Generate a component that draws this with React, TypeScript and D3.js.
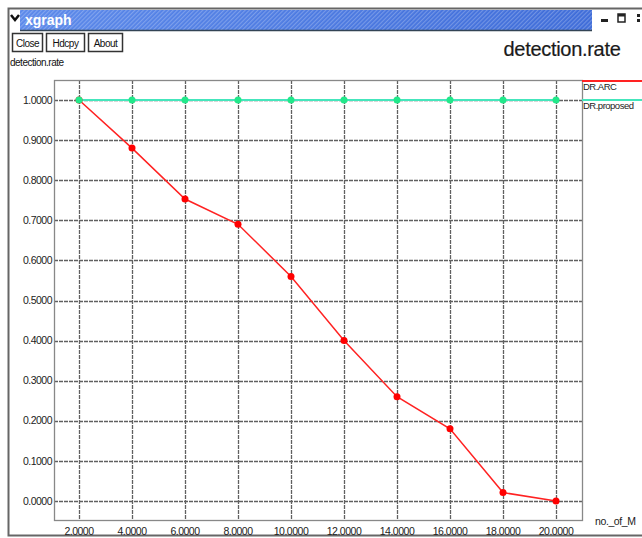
import React, { useEffect, useRef } from 'react';
import * as d3 from 'd3';

// values
const xValues = [2, 4, 6, 8, 10, 12, 14, 16, 18, 20];
const drArc = [1.0, 0.88, 0.753, 0.69, 0.56, 0.4, 0.26, 0.18, 0.021, 0.0];
const drProposed = [1, 1, 1, 1, 1, 1, 1, 1, 1, 1];
const yTicks = [0, 0.1, 0.2, 0.3, 0.4, 0.5, 0.6, 0.7, 0.8, 0.9, 1.0];
const seriesNames = ['DR.ARC', 'DR.proposed'];
const buttons = ['Close', 'Hdcpy', 'About'];

const App = () => {
  const svgRef = useRef<SVGSVGElement>(null);

  useEffect(() => {
    const width = 642;
    const height = 538;
    const frame = { left: 54, right: 582, top: 80, bottom: 520 };
    const font = "'Liberation Sans', Arial, sans-serif";

    const svg = d3.select(svgRef.current)
      .attr('width', width)
      .attr('height', height)
      .attr('viewBox', [0, 0, width, height])
      .attr('font-family', font);
    svg.selectAll('*').remove();

    svg.append('rect').attr('width', width).attr('height', height).attr('fill', '#fff');

    // window chrome
    const defs = svg.append('defs');
    const grad = defs.append('linearGradient').attr('id', 'bar');
    grad.append('stop').attr('offset', '0%').attr('stop-color', '#5a88ea');
    grad.append('stop').attr('offset', '100%').attr('stop-color', '#3d6bd8');
    const pat = defs.append('pattern')
      .attr('id', 'hatch').attr('width', 3).attr('height', 3)
      .attr('patternUnits', 'userSpaceOnUse')
      .attr('patternTransform', 'rotate(45)');
    pat.append('rect').attr('width', 1.2).attr('height', 3)
      .attr('fill', '#ffffff').attr('fill-opacity', 0.25);

    svg.append('rect').attr('x', 8.5).attr('y', 8.5).attr('width', 700).attr('height', 527)
      .attr('fill', 'none').attr('stroke', '#666').attr('stroke-width', 2);
    svg.append('rect').attr('x', 20).attr('y', 10).attr('width', 572).attr('height', 20)
      .attr('fill', 'url(#bar)');
    svg.append('rect').attr('x', 20).attr('y', 10).attr('width', 572).attr('height', 20)
      .attr('fill', 'url(#hatch)');
    svg.append('line').attr('x1', 20).attr('x2', 592).attr('y1', 30.5).attr('y2', 30.5)
      .attr('stroke', '#345').attr('stroke-width', 1.5);
    svg.append('path').attr('d', 'M11,15 L15,20 L19,15').attr('fill', 'none')
      .attr('stroke', '#111').attr('stroke-width', 2.5);
    svg.append('text').attr('x', 25).attr('y', 25).text('xgraph')
      .attr('font-family', font).attr('fill', '#fff').attr('font-size', 14).attr('font-weight', 'bold');
    svg.append('rect').attr('x', 601).attr('y', 19).attr('width', 7).attr('height', 3).attr('fill', '#222');
    svg.append('rect').attr('x', 618).attr('y', 14).attr('width', 7).attr('height', 8)
      .attr('fill', 'none').attr('stroke', '#222').attr('stroke-width', 1.5);
    svg.append('rect').attr('x', 618).attr('y', 14).attr('width', 7).attr('height', 2.5).attr('fill', '#222');
    svg.append('rect').attr('x', 637).attr('y', 14).attr('width', 3).attr('height', 3).attr('fill', '#222');
    svg.append('rect').attr('x', 637).attr('y', 19).attr('width', 3).attr('height', 3).attr('fill', '#222');

    const bx = [12, 46, 88];
    const bw = [30, 38, 34];
    buttons.forEach((b, i) => {
      svg.append('rect').attr('x', bx[i] + 0.5).attr('y', 33.5).attr('width', bw[i]).attr('height', 18)
        .attr('fill', '#fff').attr('stroke', '#333').attr('stroke-width', 1.5);
      svg.append('text').attr('x', bx[i] + bw[i] / 2 + 0.5).attr('y', 47).text(b)
        .attr('text-anchor', 'middle').attr('font-size', 10).attr('fill', '#111')
        .attr('letter-spacing', -0.5);
    });
    svg.append('text').attr('x', 10).attr('y', 66).text('detection.rate')
      .attr('font-size', 10).attr('fill', '#111').attr('letter-spacing', -0.5);
    svg.append('text').attr('x', 562).attr('y', 56).text('detection.rate')
      .attr('text-anchor', 'middle').attr('font-size', 20).attr('fill', '#1a1a1a')
      .attr('stroke', '#1a1a1a').attr('stroke-width', 0.2).attr('letter-spacing', -0.3);

    // scales
    const x = d3.scaleLinear().domain([2, 20]).range([79, 556]);
    const y = d3.scaleLinear().domain([0, 1]).range([501, 100]);

    // grid
    const grid = svg.append('g').attr('stroke', '#606060').attr('stroke-width', 1.3)
      .attr('stroke-dasharray', '4,1');
    grid.selectAll('line.v').data(xValues).join('line').attr('class', 'v')
      .attr('x1', d => Math.round(x(d)) + 0.5).attr('x2', d => Math.round(x(d)) + 0.5)
      .attr('y1', frame.top).attr('y2', frame.bottom);
    grid.selectAll('line.h').data(yTicks).join('line').attr('class', 'h')
      .attr('y1', d => Math.round(y(d)) + 0.5).attr('y2', d => Math.round(y(d)) + 0.5)
      .attr('x1', frame.left).attr('x2', frame.right);
    svg.append('rect').attr('x', frame.left + 0.5).attr('y', frame.top + 0.5)
      .attr('width', frame.right - frame.left).attr('height', frame.bottom - frame.top)
      .attr('fill', 'none').attr('stroke', '#888').attr('stroke-width', 1.3);

    // tick labels
    const fmt = d3.format('.4f');
    svg.append('g').selectAll('text').data(yTicks).join('text')
      .attr('x', frame.left - 2).attr('y', d => y(d)).attr('dy', '0.35em')
      .attr('text-anchor', 'end').attr('font-size', 10.5).attr('fill', '#222')
      .attr('letter-spacing', -0.5).text(d => fmt(d));
    svg.append('g').selectAll('text').data(xValues).join('text')
      .attr('x', d => x(d)).attr('y', 535)
      .attr('text-anchor', 'middle').attr('font-size', 10.5).attr('fill', '#222')
      .attr('letter-spacing', -0.5).text(d => fmt(d));
    svg.append('text').attr('x', 595).attr('y', 525).text('no._of_M')
      .attr('font-size', 10.5).attr('fill', '#222').attr('letter-spacing', -0.4);

    // series
    const colors = ['#f22', '#44e6bc'];
    const series = [drArc, drProposed];
    const line = d3.line<number>().x((_, i) => x(xValues[i])).y(d => y(d));
    series.forEach((s, k) => {
      svg.append('path').datum(s).attr('d', line).attr('fill', 'none')
        .attr('stroke', colors[k]).attr('stroke-width', k === 1 ? 2 : 1.5);
    });
    series.forEach((s, k) => {
      svg.append('g').selectAll('circle').data(s).join('circle')
        .attr('cx', (_, i) => x(xValues[i])).attr('cy', d => y(d)).attr('r', 3.5)
        .attr('fill', k === 0 ? '#f00' : '#22e88a');
    });

    // legend
    seriesNames.forEach((n, k) => {
      const ly = frame.top + 1 + k * 19;
      svg.append('line').attr('x1', frame.right).attr('x2', width).attr('y1', ly).attr('y2', ly)
        .attr('stroke', colors[k]).attr('stroke-width', 2);
      svg.append('text').attr('x', frame.right + 1).attr('y', ly + 9).text(n)
        .attr('font-size', 9.5).attr('fill', '#222').attr('letter-spacing', -0.5);
    });
  }, []);

  return (
    <div style={{ position: 'absolute', left: 0, top: 0 }}>
      <svg ref={svgRef} style={{ display: 'block' }}></svg>
    </div>
  );
};

export default App;
